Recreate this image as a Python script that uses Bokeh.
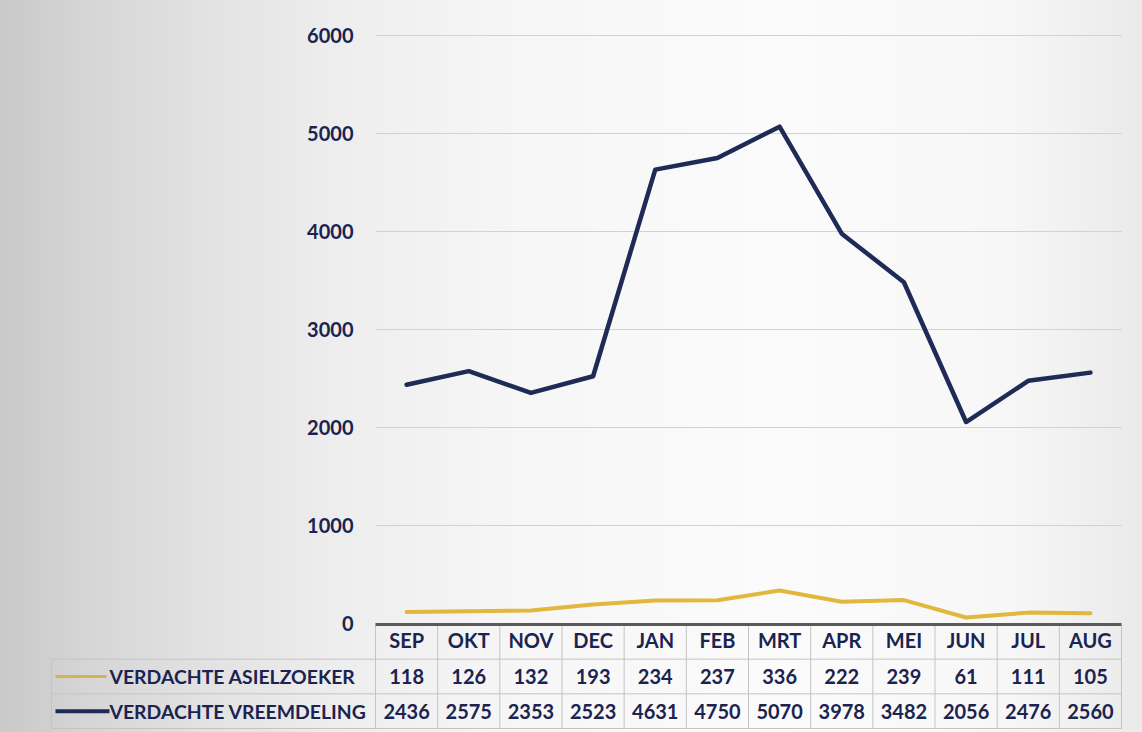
from bokeh.plotting import figure
from bokeh.models import Range1d, FixedTicker, ColumnDataSource
from bokeh.core.properties import value
from bokeh.embed import file_html
from bokeh.resources import INLINE

# ---------------- data ----------------
months = ["SEP", "OKT", "NOV", "DEC", "JAN", "FEB", "MRT", "APR", "MEI", "JUN", "JUL", "AUG"]
asielzoeker = [118, 126, 132, 193, 234, 237, 336, 222, 239, 61, 111, 105]
vreemdeling = [2436, 2575, 2353, 2523, 4631, 4750, 5070, 3978, 3482, 2056, 2476, 2560]
series_names = ["VERDACHTE ASIELZOEKER", "VERDACHTE VREEMDELING"]
y_ticks = [0, 1000, 2000, 3000, 4000, 5000, 6000]

# ---------------- style / layout ----------------
NAVY = "#1b2350"
NAVY_LINE = "#1f2a56"
GOLD = "#e1b73d"
GOLD_SWATCH = "#d6b34e"
GRID = "#d2d2d2"
CELL = "#c4c4c4"
AXIS_DARK = "#5a5a5a"
FONT = "Lato"
FS = "20px"
FS_LABEL = "19.4px"

W, H = 1142, 732
FRAME_L, FRAME_R, FRAME_T, FRAME_B = 50, 1124, 0, 732
COL_L, COL_R = 375, 1121          # table / plot columns
ZERO_PX, PX_PER_UNIT = 623, 0.098  # chart value axis
ROW_TOP, ROW_BOT = 624, 728        # table rows (header + 2)
HEAD_STANDOFF = -26

n = len(months)
xs = list(range(n))
unit = (COL_R - COL_L) / n
x_start = -0.5 - (COL_L - FRAME_L) / unit
x_end = n - 0.5 + (FRAME_R - COL_R) / unit
y_end = (ZERO_PX - FRAME_T) / PX_PER_UNIT
y_start = -(FRAME_B - ZERO_PX) / PX_PER_UNIT
row_px = (ROW_BOT - ROW_TOP) / 3
t_start = -(FRAME_B - ROW_BOT) / row_px
t_end = (ROW_BOT - FRAME_T) / row_px


def px_x(px):
    return x_start + (px - FRAME_L) / unit


p = figure(width=W, height=H, output_backend="svg", toolbar_location=None,
           x_range=Range1d(x_start, x_end), y_range=Range1d(y_start, y_end),
           x_axis_location="above", y_axis_location="left",
           min_border_left=FRAME_L, min_border_right=W - FRAME_R,
           min_border_top=FRAME_T, min_border_bottom=H - FRAME_B)
p.extra_y_ranges = {"table": Range1d(t_start, t_end)}
p.background_fill_alpha = 0
p.border_fill_alpha = 0
p.outline_line_color = None
p.styles = {"background": "linear-gradient(90deg, #c9c9c9 0%, #d6d6d6 8%, #e2e2e2 18%, "
                          "#eeeeee 30%, #f6f6f6 45%, #fbfbfb 68%, #f7f7f7 88%, #eaeaea 100%)"}

# grid
p.xgrid.visible = False
p.ygrid.grid_line_color = GRID
p.ygrid.grid_line_width = 1
try:
    p.ygrid.cross_bounds = (-0.5, n - 0.5)
except Exception:
    p.ygrid.visible = False
    p.segment(x0=[-0.5] * len(y_ticks), y0=y_ticks, x1=[n - 0.5] * len(y_ticks), y1=y_ticks,
              line_color=GRID, line_width=1)

# value axis (left), labels ending just left of the table
ya = p.yaxis[0]
ya.ticker = FixedTicker(ticks=y_ticks)
ya.fixed_location = px_x(353)
ya.axis_line_color = None
ya.major_tick_out = 0
ya.major_tick_in = 0
ya.minor_tick_out = 0
ya.minor_tick_in = 0
ya.major_tick_line_color = None
ya.minor_tick_line_color = None
ya.major_label_standoff = 0
ya.major_label_text_font = FONT
ya.major_label_text_font_style = "bold"
ya.major_label_text_font_size = FS
ya.major_label_text_color = NAVY

# month axis = header row of the data table
head_label_bottom = 651.7
xa = p.xaxis[0]
xa.ticker = FixedTicker(ticks=xs)
xa.major_label_overrides = {i: m for i, m in enumerate(months)}
xa.fixed_location = (ZERO_PX - (head_label_bottom + HEAD_STANDOFF)) / PX_PER_UNIT
xa.axis_line_color = None
xa.major_tick_out = 0
xa.major_tick_in = 0
xa.minor_tick_out = 0
xa.minor_tick_in = 0
xa.major_tick_line_color = None
xa.minor_tick_line_color = None
xa.major_label_standoff = HEAD_STANDOFF
xa.major_label_text_font = FONT
xa.major_label_text_font_style = "bold"
xa.major_label_text_font_size = FS
xa.major_label_text_color = NAVY

# series lines
src = ColumnDataSource(dict(x=xs, a=asielzoeker, v=vreemdeling))
p.line("x", "a", source=src, line_color=GOLD, line_width=4, line_join="round", line_cap="round")
p.line("x", "v", source=src, line_color=NAVY_LINE, line_width=4.5, line_join="round", line_cap="round")

# ---------------- data table ----------------
lab_left = px_x(51)
# horizontal borders of the two data rows
p.segment(x0=[lab_left] * 3, y0=[0, 1, 2], x1=[n - 0.5] * 3, y1=[0, 1, 2],
          line_color=CELL, line_width=1, y_range_name="table")
# vertical borders
vx = [i - 0.5 for i in range(n + 1)]
p.segment(x0=vx, y0=[0] * len(vx), x1=vx, y1=[3] * len(vx),
          line_color=CELL, line_width=1, y_range_name="table")
p.segment(x0=[lab_left], y0=[0], x1=[lab_left], y1=[2],
          line_color=CELL, line_width=1, y_range_name="table")
# thick top border (zero line)
p.segment(x0=[-0.5], y0=[3], x1=[n - 0.5], y1=[3],
          line_color=AXIS_DARK, line_width=3, y_range_name="table")

row_y = [1.5, 0.5]
# legend swatches
p.segment(x0=[px_x(55)] * 2, y0=row_y, x1=[px_x(106), px_x(109)], y1=row_y,
          line_color=[GOLD_SWATCH, NAVY_LINE], line_width=[3, 4], y_range_name="table")
# row labels
p.text(x=[px_x(109)] * 2, y=row_y, text=series_names, y_range_name="table",
       text_font=value(FONT), text_font_style="bold", text_font_size=FS_LABEL,
       text_color=NAVY, text_align="left", text_baseline="middle")
# values
p.text(x=xs + xs, y=[row_y[0]] * n + [row_y[1]] * n,
       text=[str(v) for v in asielzoeker] + [str(v) for v in vreemdeling],
       y_range_name="table",
       text_font=value(FONT), text_font_style="bold", text_font_size=FS,
       text_color=NAVY, text_align="center", text_baseline="middle")

open("out.html", "w").write(file_html(p, INLINE))
